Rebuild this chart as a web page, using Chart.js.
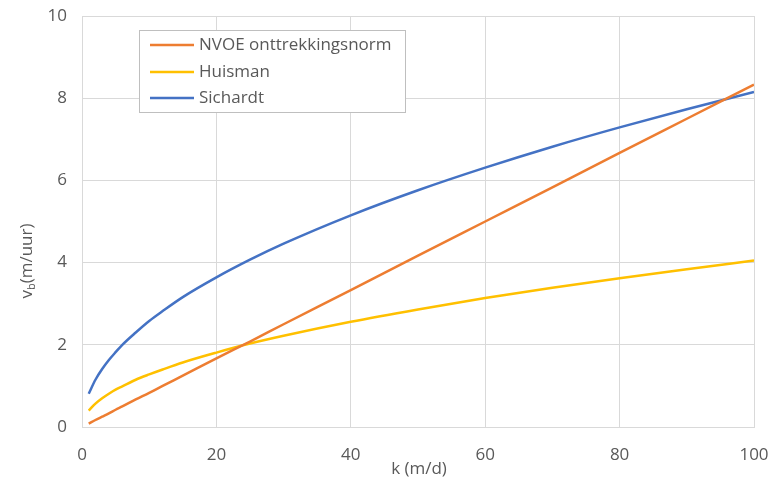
<!DOCTYPE html>
<html><head><meta charset="utf-8">
<script src="https://cdn.jsdelivr.net/npm/chart.js@4/dist/chart.umd.min.js"></script>
<style>html,body{margin:0;padding:0;background:#fff}#wrap{width:771px;height:481px}</style>
</head><body><div id="wrap"><canvas id="c" width="771" height="481"></canvas></div>
<script>
const kValues = [1,2,3,4,5,6,8,10,12,15,20,25,30,40,50,60,70,80,90,100];
const nvoe = [0.08,0.17,0.25,0.33,0.42,0.50,0.67,0.83,1.00,1.25,1.67,2.08,2.50,3.33,4.17,5.00,5.83,6.67,7.50,8.33];
const huisman = [0.40,0.57,0.70,0.81,0.91,0.99,1.15,1.28,1.40,1.57,1.81,2.03,2.22,2.56,2.86,3.14,3.39,3.62,3.84,4.05];
const sichardt = [0.81,1.15,1.41,1.63,1.82,2.00,2.30,2.58,2.82,3.16,3.64,4.07,4.46,5.15,5.76,6.31,6.82,7.29,7.73,8.15];
const seriesNames = ['NVOE onttrekkingsnorm','Huisman','Sichardt'];
const xTicks = [0,20,40,60,80,100];
const yTicks = [0,2,4,6,8,10];

const FONT = '"Open Sans", sans-serif';
const TXT = '#595959';
const GRID = '#d9d9d9';
const colors = ['#ED7D31','#FFC000','#4472C4'];

function pts(arr){ return kValues.map((k,i)=>({x:k,y:arr[i]})); }

const overlay = {
  id:'overlay',
  afterDraw(chart){
    const ctx = chart.ctx, a = chart.chartArea;
    ctx.save();
    ctx.strokeStyle = GRID; ctx.lineWidth = 1;
    ctx.strokeRect(Math.round(a.left)+0.5, Math.round(a.top)+0.5, Math.round(a.right-a.left), Math.round(a.bottom-a.top));
    // legend box
    const bx=139.5, by=30.5, bw=266, bh=82;
    ctx.fillStyle='#fff'; ctx.fillRect(bx,by,bw,bh);
    ctx.strokeStyle='#bfbfbf'; ctx.strokeRect(bx,by,bw,bh);
    const rows=[45,72,98];
    ctx.font = '17px '+FONT; ctx.textBaseline='middle'; ctx.textAlign='left';
    chart.data.datasets.forEach((ds,i)=>{
      ctx.strokeStyle=ds.borderColor; ctx.lineWidth=2.5;
      ctx.beginPath(); ctx.moveTo(150,rows[i]); ctx.lineTo(194,rows[i]); ctx.stroke();
      ctx.fillStyle=TXT; ctx.fillText(ds.label,199,rows[i]);
    });
    // x title
    ctx.textAlign='center';
    ctx.font='17px '+FONT;
    ctx.fillText('k (m/d)', 419, 469);
    // y title with subscript
    ctx.translate(27,261); ctx.rotate(-Math.PI/2);
    ctx.font='17px '+FONT;
    const w1=ctx.measureText('v').width;
    ctx.font='11px '+FONT;
    const w2=ctx.measureText('b').width;
    ctx.font='17px '+FONT;
    const w3=ctx.measureText('(m/uur)').width;
    let x0=-(w1+w2+w3)/2;
    ctx.textAlign='left';
    ctx.fillText('v',x0,0);
    ctx.font='11px '+FONT; ctx.fillText('b',x0+w1,5);
    ctx.font='17px '+FONT; ctx.fillText('(m/uur)',x0+w1+w2,0);
    ctx.restore();
  }
};

const chart = new Chart(document.getElementById('c'),{
  type:'line',
  data:{datasets:[
    {label:seriesNames[0],data:pts(nvoe),borderColor:colors[0],backgroundColor:colors[0],borderWidth:2.5,pointRadius:0,tension:0.4,cubicInterpolationMode:'monotone'},
    {label:seriesNames[1],data:pts(huisman),borderColor:colors[1],backgroundColor:colors[1],borderWidth:2.5,pointRadius:0,tension:0.4,cubicInterpolationMode:'monotone'},
    {label:seriesNames[2],data:pts(sichardt),borderColor:colors[2],backgroundColor:colors[2],borderWidth:2.5,pointRadius:0,tension:0.4,cubicInterpolationMode:'monotone'}
  ]},
  options:{
    responsive:false, animation:false,
    layout:{padding:{top:16,right:17,left:0,bottom:0}},
    plugins:{legend:{display:false},tooltip:{enabled:false}},
    scales:{
      x:{type:'linear',min:0,max:100,
        afterBuildTicks(s){s.ticks=xTicks.map(v=>({value:v}));},
        afterFit(s){s.height=54;s.paddingLeft=0;s.paddingRight=0;},
        grid:{color:GRID,drawTicks:false},border:{display:false},
        ticks:{padding:18,color:TXT,font:{family:FONT,size:17}}},
      y:{type:'linear',min:0,max:10,
        afterBuildTicks(s){s.ticks=yTicks.map(v=>({value:v}));},
        afterFit(s){s.width=82;s.paddingTop=0;s.paddingBottom=0;},
        grid:{color:GRID,drawTicks:false},border:{display:false},
        ticks:{padding:15,color:TXT,font:{family:FONT,size:17}}}
    }
  },
  plugins:[overlay]
});
</script></body></html>
